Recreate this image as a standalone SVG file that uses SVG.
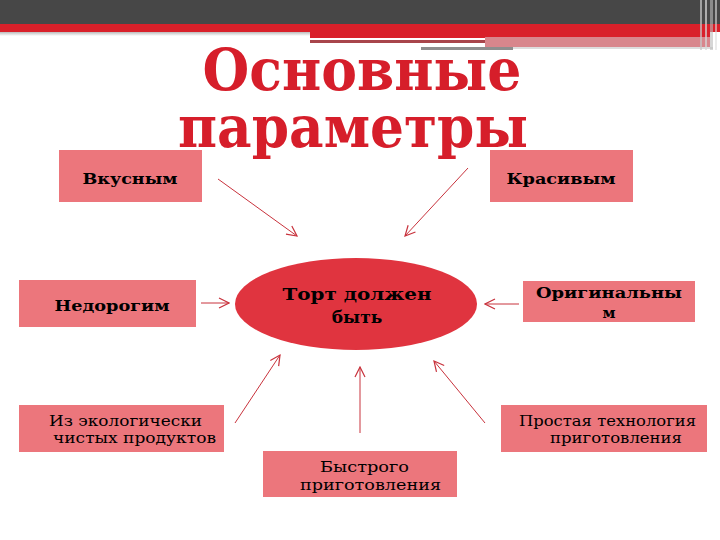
<svg xmlns="http://www.w3.org/2000/svg" width="720" height="540" viewBox="0 0 720 540">
<defs>
<style>
.box{fill:#ec767c;}
.t{font-family:"DejaVu Serif","Liberation Serif",serif;fill:#000;}
.b{font-weight:bold;font-size:15px;}
.r{font-size:14px;}
.title{font-family:"DejaVu Serif","Liberation Serif",serif;font-weight:bold;font-size:58px;fill:#d61e2a;}
.c{stroke:#c8323c;stroke-width:1;fill:none;marker-end:url(#arr);}
</style>
<marker id="arr" viewBox="0 0 12 12" refX="11" refY="6" markerWidth="12" markerHeight="12" markerUnits="userSpaceOnUse" orient="auto">
<path d="M1,1 L11,6 L1,11" fill="none" stroke="#c8323c" stroke-width="1.2"/>
</marker>
<linearGradient id="g1" x1="0" y1="0" x2="0" y2="1">
<stop offset="0" stop-color="#bbbbbb"/><stop offset="1" stop-color="#ffffff"/>
</linearGradient>
</defs>
<g id="header">
<rect x="0" y="0" width="720" height="24" fill="#474747"/>
<rect x="0" y="24" width="720" height="8" fill="#d9202a"/>
<rect x="0" y="32" width="310" height="4" fill="url(#g1)"/>
<rect x="310" y="32" width="400" height="6" fill="#d9202a"/>
<rect x="310" y="38" width="175" height="2" fill="#ffffff"/>
<rect x="310" y="40" width="175" height="3" fill="#a8454b"/>
<rect x="485" y="37" width="225" height="10" fill="#d8868c"/>
<rect x="421" y="47" width="92" height="3" fill="#8e8e8e"/>
<rect x="513" y="47" width="200" height="2" fill="#dddddd"/>
<rect x="700" y="0" width="2" height="50" fill="#c8c8c8" opacity="0.7"/>
<rect x="705" y="0" width="2" height="50" fill="#d8d8d8" opacity="0.7"/>
<rect x="710" y="0" width="3" height="50" fill="#bbbbbb" opacity="0.6"/>
<rect x="715" y="0" width="2" height="50" fill="#dddddd" opacity="0.6"/>
</g>
<g id="title">
<text class="title" text-anchor="middle"><tspan x="362" y="90" textLength="319" lengthAdjust="spacingAndGlyphs">Основные</tspan><tspan x="353" y="147" textLength="350" lengthAdjust="spacingAndGlyphs">параметры</tspan></text>
</g>
<g id="connectors">
<line class="c" x1="218" y1="179" x2="297" y2="236"/>
<line class="c" x1="468" y1="168" x2="405" y2="236"/>
<line class="c" x1="201" y1="303" x2="229" y2="303"/>
<line class="c" x1="519" y1="304" x2="485" y2="304"/>
<line class="c" x1="235" y1="423" x2="280" y2="355"/>
<line class="c" x1="360" y1="433" x2="360" y2="367"/>
<line class="c" x1="485" y1="423" x2="434" y2="361"/>
</g>
<g id="center">
<ellipse cx="356" cy="304" rx="121" ry="46" fill="#e0343f"/>
<text class="t" x="357" y="300" text-anchor="middle" font-size="17" font-weight="bold" textLength="149" lengthAdjust="spacingAndGlyphs">Торт должен</text>
<text class="t" x="357" y="323" text-anchor="middle" font-size="17" font-weight="bold">быть</text>
</g>
<g id="vkusnym">
<rect class="box" x="59" y="150" width="143" height="52"/>
<text class="t b" x="130" y="184" text-anchor="middle" textLength="95" lengthAdjust="spacingAndGlyphs">Вкусным</text>
</g>
<g id="krasivym">
<rect class="box" x="490" y="150" width="143" height="52"/>
<text class="t b" x="561" y="184" text-anchor="middle" textLength="109" lengthAdjust="spacingAndGlyphs">Красивым</text>
</g>
<g id="nedorogim">
<rect class="box" x="19" y="280" width="177" height="47"/>
<text class="t b" x="112" y="311" text-anchor="middle" textLength="115" lengthAdjust="spacingAndGlyphs">Недорогим</text>
</g>
<g id="originalnym">
<rect class="box" x="523" y="281" width="172" height="41"/>
<text class="t b" x="609" y="298" text-anchor="middle" textLength="146" lengthAdjust="spacingAndGlyphs">Оригинальны</text>
<text class="t b" x="609" y="318" text-anchor="middle">м</text>
</g>
<g id="eco">
<rect class="box" x="19" y="405" width="205" height="47"/>
<text class="t r" x="49" y="426" textLength="153" lengthAdjust="spacingAndGlyphs">Из экологически</text>
<text class="t r" x="53" y="443" textLength="163" lengthAdjust="spacingAndGlyphs">чистых продуктов</text>
</g>
<g id="fast">
<rect class="box" x="263" y="451" width="194" height="46"/>
<text class="t r" x="320" y="472" textLength="89" lengthAdjust="spacingAndGlyphs">Быстрого</text>
<text class="t r" x="300" y="490" textLength="141" lengthAdjust="spacingAndGlyphs">приготовления</text>
</g>
<g id="simple">
<rect class="box" x="501" y="405" width="206" height="47"/>
<text class="t r" x="519" y="426" textLength="177" lengthAdjust="spacingAndGlyphs">Простая технология</text>
<text class="t r" x="550" y="443" textLength="132" lengthAdjust="spacingAndGlyphs">приготовления</text>
</g>
</svg>
